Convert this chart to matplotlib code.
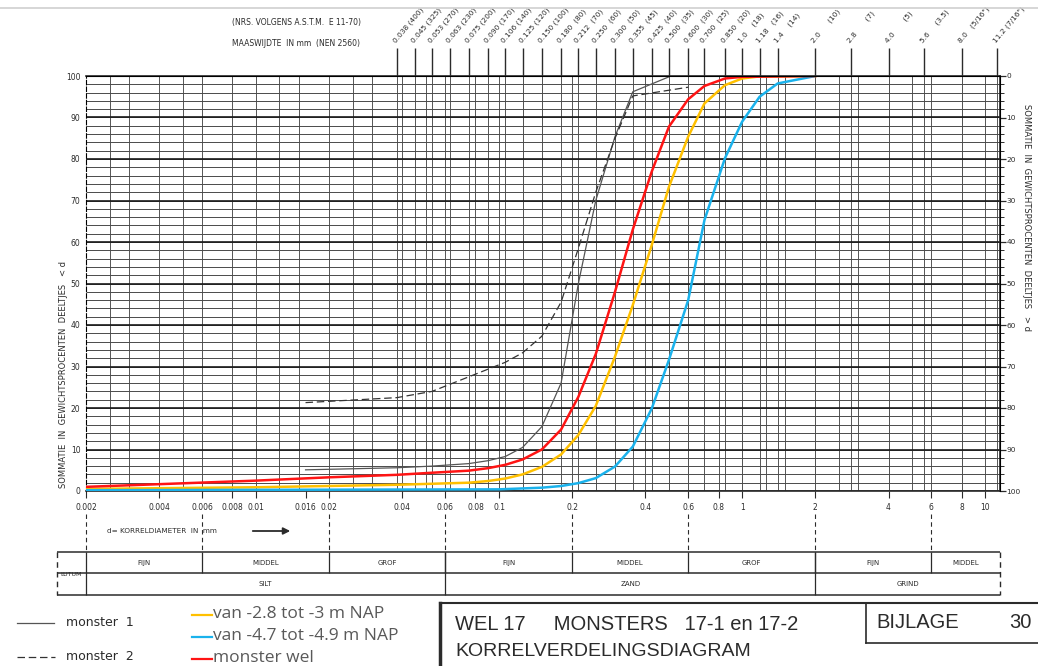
import numpy as np
import matplotlib
matplotlib.use("Agg")
import matplotlib.pyplot as plt
from matplotlib import transforms
from matplotlib.ticker import NullLocator, FixedLocator

# sieve sizes (mm) on the top axis with ASTM numbers
sieve_mm = [0.038, 0.045, 0.053, 0.063, 0.075, 0.090, 0.106, 0.125, 0.150,
            0.180, 0.212, 0.250, 0.300, 0.355, 0.425, 0.500, 0.600, 0.700,
            0.850, 1.0, 1.18, 1.4, 2.0, 2.8, 4.0, 5.6, 8.0, 11.2]
sieve_labels = ["0.038 (400)", "0.045 (325)", "0.053 (270)", "0.063 (230)",
                "0.075 (200)", "0.090 (170)", "0.106 (140)", "0.125 (120)",
                "0.150 (100)", "0.180  (80)", "0.212  (70)", "0.250  (60)",
                "0.300  (50)", "0.355  (45)", "0.425  (40)", "0.500  (35)",
                "0.600  (30)", "0.700  (25)", "0.850  (20)", "1.0    (18)",
                "1.18   (16)", "1.4    (14)", "2.0      (10)", "2.8       (7)",
                "4.0       (5)", "5.6     (3.5)", "8.0   (5/16\")",
                "11.2 (7/16\")"]

# bottom axis
bottom_ticks = [0.002, 0.004, 0.006, 0.008, 0.01, 0.016, 0.02, 0.04, 0.06,
                0.08, 0.1, 0.2, 0.4, 0.6, 0.8, 1, 2, 4, 6, 8, 10]
bottom_labels = ["0.002", "0.004", "0.006", "0.008", "0.01", "0.016", "0.02",
                 "0.04", "0.06", "0.08", "0.1", "0.2", "0.4", "0.6", "0.8",
                 "1", "2", "4", "6", "8", "10"]

# colored samples (cumulative % passing)
red_d = [0.002, 0.01, 0.02, 0.038, 0.053, 0.075, 0.090, 0.106, 0.125, 0.150,
         0.180, 0.212, 0.250, 0.300, 0.355, 0.425, 0.500, 0.600, 0.700, 0.850,
         1.0, 2.0]
red_p = [1.0, 2.5, 3.3, 3.9, 4.4, 4.9, 5.5, 6.3, 7.6, 10.0, 14.8, 22.7, 33.0,
         48.0, 63.0, 77.0, 87.8, 94.4, 97.6, 99.4, 99.8, 100]

yellow_d = [0.002, 0.01, 0.038, 0.075, 0.090, 0.106, 0.125, 0.150, 0.180,
            0.212, 0.250, 0.300, 0.355, 0.425, 0.500, 0.600, 0.700, 0.850,
            1.0, 1.18, 2.0]
yellow_p = [0.5, 0.9, 1.5, 2.0, 2.4, 3.0, 4.0, 5.8, 8.8, 13.5, 20.5, 32.4,
            44.8, 59.3, 73.3, 85.4, 93.4, 97.8, 99.4, 99.9, 100]

blue_d = [0.002, 0.1, 0.150, 0.180, 0.212, 0.250, 0.300, 0.355, 0.425, 0.500,
          0.600, 0.700, 0.850, 1.0, 1.18, 1.4, 2.0]
blue_p = [0.2, 0.4, 0.8, 1.2, 1.9, 3.1, 5.9, 10.7, 19.9, 31.6, 46.0, 65.3,
          80.2, 89.0, 95.0, 98.2, 100]

# original drawn samples
m1_d = [0.016, 0.038, 0.053, 0.075, 0.090, 0.106, 0.125, 0.150, 0.180, 0.212,
        0.250, 0.300, 0.355, 0.500]
m1_p = [5.1, 5.6, 6.0, 6.6, 7.3, 8.3, 10.5, 15.5, 26.0, 50.0, 70.0, 85.4,
        96.2, 99.8]

m2_d = [0.016, 0.038, 0.053, 0.075, 0.106, 0.125, 0.150, 0.180, 0.212, 0.250,
        0.300, 0.355, 0.600]
m2_p = [21.3, 22.5, 24.0, 27.5, 31.0, 33.3, 37.3, 45.5, 58.5, 72.0, 85.0,
        95.2, 97.3]

# classification
top_bounds = [0.002, 0.006, 0.02, 0.06, 0.2, 0.6, 2, 6, 11.5]
top_names = ["FIJN", "MIDDEL", "GROF", "FIJN", "MIDDEL", "GROF", "FIJN",
             "MIDDEL"]
main_bounds = [0.002, 0.06, 2, 11.5]
main_names = ["SILT", "ZAND", "GRIND"]

X_MIN, X_MAX = 0.002, 11.5
W, H = 1038, 666
INK = "#2b2b2b"

fig = plt.figure(figsize=(W / 100, H / 100), dpi=100)
ax = fig.add_axes([86 / W, 1 - 491 / H, 914 / W, 415 / H])
ax.set_xscale("log")
ax.set_xlim(X_MIN, X_MAX)
ax.set_ylim(0, 100)

# graph paper grid
subs = [1, 1.25, 1.5, 2, 2.5, 3, 4, 5, 6, 8]
grid_x = [m * 10.0 ** e for e in range(-3, 2) for m in subs]
grid_x = [g for g in grid_x if X_MIN < g < X_MAX] + sieve_mm
ax.vlines(grid_x, 0, 100, colors="#555555", lw=0.7, zorder=1)
ax.hlines(np.arange(0, 101, 2), X_MIN, X_MAX, colors="#4a4a4a", lw=0.7,
          zorder=1)
ax.hlines(np.arange(0, 101, 10), X_MIN, X_MAX, colors="#1a1a1a", lw=1.2,
          zorder=1)

ax.plot(m1_d, m1_p, color="#555555", lw=0.9, zorder=3)
ax.plot(m2_d, m2_p, color="#333333", lw=0.9, dashes=(6, 3), zorder=3)
ax.plot(yellow_d, yellow_p, color="#FFC000", lw=1.8, zorder=4)
ax.plot(blue_d, blue_p, color="#1AB2EC", lw=1.8, zorder=4)
ax.plot(red_d, red_p, color="#FF1414", lw=1.8, zorder=5)

ax.set_xticks(bottom_ticks)
ax.set_xticklabels(bottom_labels)
ax.xaxis.set_minor_locator(NullLocator())
ax.tick_params(axis="x", direction="out", length=5, width=0.8,
               labelsize=5.5, pad=4, colors=INK)
ax.set_yticks(range(0, 101, 10))
ax.tick_params(axis="y", length=0, labelsize=5.5, pad=4, colors=INK)
for side in ["top", "bottom", "right"]:
    ax.spines[side].set_linewidth(1.2)
    ax.spines[side].set_color(INK)
ax.spines["left"].set_linestyle((0, (4, 2)))
ax.spines["left"].set_linewidth(0.8)

# right axis (percentage > d)
ax_r = ax.twinx()
ax_r.set_ylim(100, 0)
ax_r.set_yticks(range(0, 101, 10))
ax_r.yaxis.set_minor_locator(FixedLocator(range(0, 101, 2)))
ax_r.tick_params(axis="y", which="major", direction="out", length=4,
                 width=0.9, labelsize=5.3, pad=0.5, colors=INK)
ax_r.tick_params(axis="y", which="minor", direction="out", length=3,
                 width=0.7, colors=INK)
for side in ["left", "top", "bottom"]:
    ax_r.spines[side].set_visible(False)

# top axis (sieve sizes)
ax_t = ax.twiny()
ax_t.set_xscale("log")
ax_t.set_xlim(X_MIN, X_MAX)
ax_t.set_xticks(sieve_mm)
ax_t.set_xticklabels(sieve_labels, rotation=50, ha="left", va="bottom",
                     rotation_mode="anchor")
ax_t.xaxis.set_minor_locator(NullLocator())
ax_t.tick_params(axis="x", direction="out", length=20, width=1.0,
                 labelsize=5.3, pad=3, colors=INK)
for side in ["left", "right", "bottom"]:
    ax_t.spines[side].set_visible(False)

# overlay in pixel coordinates for annotations and the table
ov = fig.add_axes([0, 0, 1, 1])
ov.set_xlim(0, W)
ov.set_ylim(H, 0)
ov.axis("off")
ov.patch.set_visible(False)
bt = transforms.blended_transform_factory(ax.transData, ov.transData)

ov.hlines(8, 0, W, colors="#d0d0d0", lw=1.2)
ov.text(232, 23, "(NRS. VOLGENS A.S.T.M.  E 11-70)", fontsize=5.5,
        va="center", color=INK)
ov.text(232, 43, "MAASWIJDTE  IN mm  (NEN 2560)", fontsize=5.5,
        va="center", color=INK)
ov.text(63, 375, "SOMMATIE  IN  GEWICHTSPROCENTEN  DEELTJES   < d",
        rotation=90, fontsize=6, ha="center", va="center", color=INK)
ov.text(1026, 218, "SOMMATIE  IN  GEWICHTSPROCENTEN  DEELTJES   > d",
        rotation=-90, fontsize=6, ha="center", va="center", color=INK)

ov.text(107, 531, "d= KORRELDIAMETER  IN  mm", fontsize=5.2, va="center",
        color=INK)
ov.annotate("", xy=(293, 531), xytext=(250, 531),
            arrowprops=dict(arrowstyle="-|>", lw=1.3, color=INK))

# dashed guides down to the table
ov.vlines(top_bounds[:-1], 514, 552, colors=INK, lw=0.8,
          linestyles=(0, (4, 3)), transform=bt)

# classification table
ov.hlines([552, 573, 595], 57, 1000, colors=INK, lw=1.1)
ov.vlines([57, 1000], 552, 595, colors=INK, lw=1.0, linestyles=(0, (4, 3)))
ov.vlines(top_bounds[1:-1], 552, 573, colors=INK, lw=0.9, transform=bt)
ov.vlines(main_bounds[:-1], 552, 595, colors=INK, lw=0.9, transform=bt)
for a, b, name in zip(top_bounds[:-1], top_bounds[1:], top_names):
    ov.text(np.sqrt(a * b), 563, name, fontsize=5, ha="center", va="center",
            transform=bt, color=INK)
for a, b, name in zip(main_bounds[:-1], main_bounds[1:], main_names):
    ov.text(np.sqrt(a * b), 584, name, fontsize=5, ha="center", va="center",
            transform=bt, color=INK)
ov.text(71, 574, "LUTUM", fontsize=4.6, ha="center", va="center", color=INK)

# legends
ov.plot([17, 54], [623, 623], color="#555555", lw=0.9)
ov.text(66, 623, "monster  1", fontsize=9, va="center", color=INK)
ov.plot([17, 55], [657, 657], color="#333333", lw=0.9, dashes=(6, 3))
ov.text(66, 657, "monster  2", fontsize=9, va="center", color=INK)

for y, col, txt in [(614, "#FFC000", "van -2.8 tot -3 m NAP"),
                    (636, "#1AB2EC", "van -4.7 tot -4.9 m NAP"),
                    (658, "#FF1414", "monster wel")]:
    ov.plot([192, 212], [y + 1, y + 1], color=col, lw=1.6)
    ov.text(213, y, txt, fontsize=12.5, va="center", color="#595959",
            family="Open Sans")

# title block
ov.plot([440, 440], [603, 666], color=INK, lw=2.5)
ov.plot([440, W], [603, 603], color=INK, lw=1.5)
ov.plot([866, 866], [603, 643], color=INK, lw=1.2)
ov.plot([866, W], [643, 643], color=INK, lw=1.2)
ov.text(455, 625, "WEL 17     MONSTERS   17-1 en 17-2", fontsize=14.5,
        va="center", color=INK, family="Liberation Sans")
ov.text(455, 652, "KORRELVERDELINGSDIAGRAM", fontsize=14, va="center",
        color=INK, family="Liberation Sans")
ov.text(876, 623, "BIJLAGE", fontsize=14.5, va="center", color=INK,
        family="Liberation Sans")
ov.text(1032, 623, "30", fontsize=14.5, va="center", ha="right", color=INK,
        family="Liberation Sans")

fig.savefig("out.png", dpi=100, facecolor="white")
